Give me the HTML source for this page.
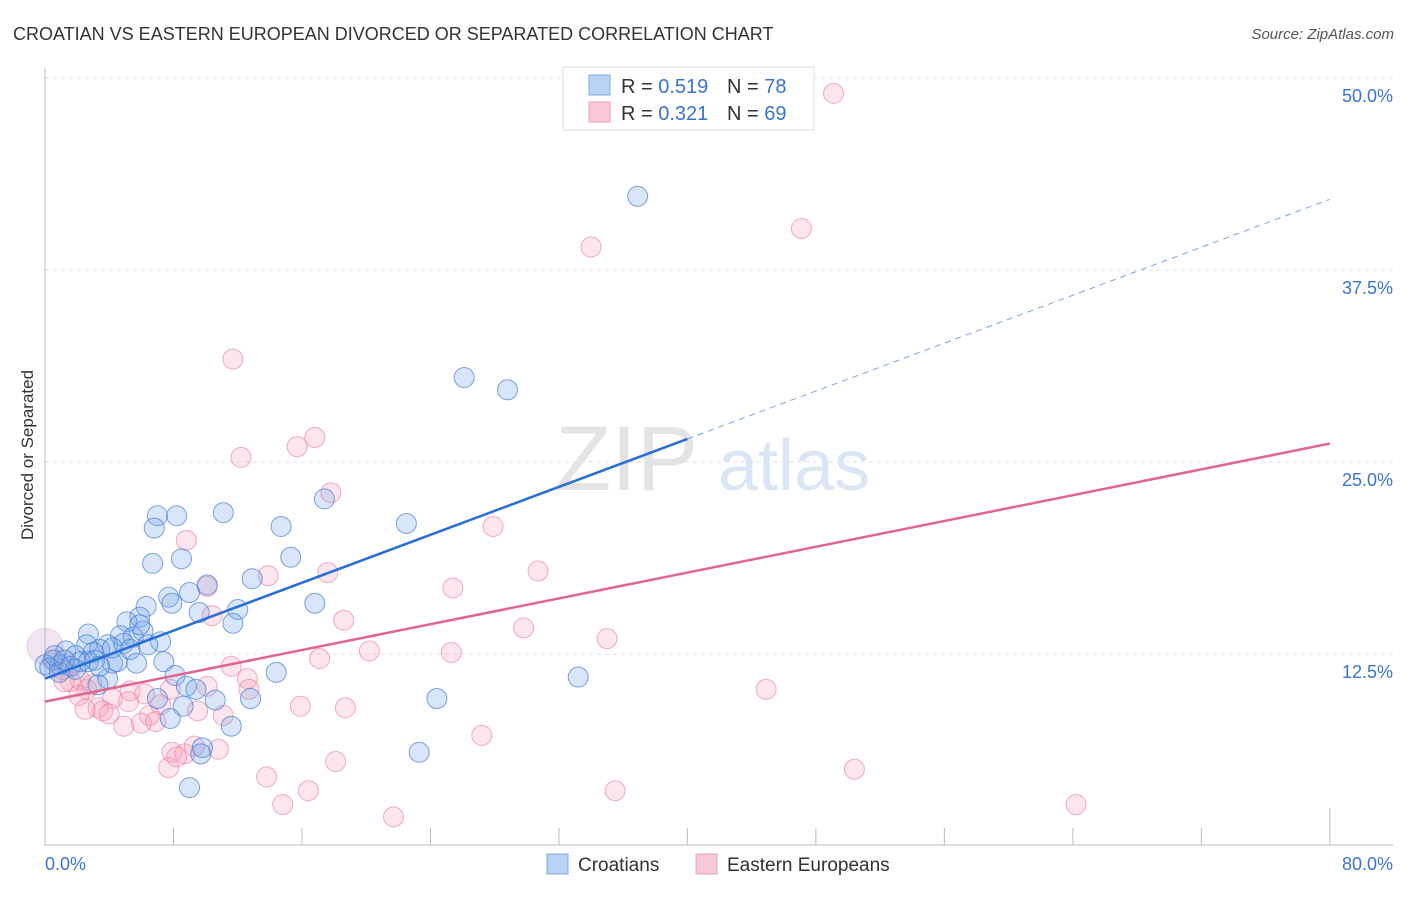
<!DOCTYPE html>
<html><head><meta charset="utf-8"><style>
body{margin:0;background:#fff;font-family:"Liberation Sans",sans-serif}
svg text{font-family:"Liberation Sans",sans-serif}
</style></head><body>
<svg id="chart" width="1406" height="892" viewBox="0 0 1406 892" xmlns="http://www.w3.org/2000/svg">
<text x="13" y="40" font-size="18" fill="#333">CROATIAN VS EASTERN EUROPEAN DIVORCED OR SEPARATED CORRELATION CHART</text>
<text x="1394" y="39" font-size="15" fill="#555" font-style="italic" text-anchor="end">Source: ZipAtlas.com</text>
<text transform="translate(33,455) rotate(-90)" font-size="17" fill="#333" text-anchor="middle">Divorced or Separated</text>
<g id="grid"></g>
<text x="555" y="490" font-size="92" fill="#e4e4e4" font-family="Liberation Serif">ZIP</text>
<text x="718" y="490" font-size="72" fill="#dbe6f5">atlas</text>
<g id="pts"></g>
<g id="lines"></g>
<g>
<rect x="563" y="67" width="251" height="63" fill="#fff" stroke="#ddd"/>
<rect x="589" y="75" width="21" height="20" fill="#b9d3f5" stroke="#7fa8e0"/>
<rect x="589" y="102" width="21" height="20" fill="#f9c8d6" stroke="#eaa0b8"/>
<text x="621" y="93" font-size="20" fill="#333">R = <tspan fill="#3a74d0">0.519</tspan></text>
<text x="727" y="93" font-size="20" fill="#333">N = <tspan fill="#3a74d0">78</tspan></text>
<text x="621" y="120" font-size="20" fill="#333">R = <tspan fill="#3a74d0">0.321</tspan></text>
<text x="727" y="120" font-size="20" fill="#333">N = <tspan fill="#3a74d0">69</tspan></text>
</g>
<g>
<rect x="547" y="854" width="21" height="20" fill="#b9d3f5" stroke="#7fa8e0"/>
<text x="578" y="871" font-size="19" fill="#333">Croatians</text>
<rect x="696" y="854" width="21" height="20" fill="#f9c8d6" stroke="#eaa0b8"/>
<text x="727" y="871" font-size="19" fill="#333">Eastern Europeans</text>
</g>
</svg>
<script>
const blueX=[36.9,26.1,28.8,17.4,22.5,14.7,11.1,7.0,8.2,6.8,6.7,8.5,15.3,12.9,10.1,7.7,6.3,7.9,9.0,9.6,12.0,11.7,16.8,5.9,5.1,4.7,5.5,6.1,7.2,2.7,2.6,3.9,3.4,4.9,6.4,1.3,1.9,3.0,4.2,5.7,7.4,4.5,0.5,0.9,1.6,2.2,2.7,0.0,0.3,3.9,8.1,8.8,9.4,14.4,33.2,24.4,7.0,12.8,8.6,7.8,11.6,9.8,9.7,23.3,9.0,3.3,1.9,0.9,0.6,1.2,3.1,5.3,4.2,5.9,10.6,3.4];
const blueY=[42.3,30.5,29.7,22.6,21.0,20.8,21.7,21.5,21.5,20.7,18.4,18.7,18.8,17.4,17.0,16.2,15.6,15.8,16.5,15.2,15.4,14.5,15.8,14.9,14.6,13.7,13.6,14.0,13.3,13.8,13.1,13.1,12.8,13.2,13.1,12.7,12.4,12.6,11.9,11.9,12.0,12.0,12.1,11.8,11.7,12.0,12.0,11.8,11.6,10.9,11.1,10.4,10.2,11.3,11.0,9.6,9.6,9.6,9.1,8.3,7.8,6.4,6.0,6.1,3.8,10.5,11.5,11.3,12.4,12.1,12.1,12.8,12.9,14.4,9.5,11.7];
const pinkX=[49.1,47.1,34.0,11.7,16.8,15.7,12.2,17.8,27.9,8.8,30.7,13.9,17.6,10.1,25.4,10.4,18.6,29.8,35.0,20.2,25.3,17.1,11.6,12.6,12.7,44.9,10.1,5.3,6.2,4.2,5.2,2.6,2.2,1.6,1.2,3.3,3.6,4.9,4.0,7.2,6.5,6.0,9.5,11.1,15.9,18.7,6.9,7.9,8.7,9.3,7.7,8.2,10.8,27.2,18.1,13.8,50.4,16.4,14.8,35.5,64.2,21.7,0.6,1.1,2.9,2.1,2.5,7.8];
const pinkY=[49.0,40.2,39.0,31.7,26.6,26.0,25.3,23.0,20.8,19.9,17.9,17.6,17.8,16.9,16.8,15.0,14.7,14.2,13.5,12.7,12.6,12.2,11.7,10.9,10.2,10.2,10.4,10.1,9.9,9.6,9.4,10.2,10.8,10.7,10.7,9.0,8.8,7.8,8.6,9.2,8.5,8.0,8.8,8.5,9.1,9.0,8.1,6.1,6.0,6.5,5.1,5.8,6.3,7.2,5.5,4.5,5.0,3.6,2.7,3.6,2.7,1.9,12.1,11.5,10.5,9.8,8.9,10.2];
const blueTrend=[10.9,42.1];
const pinkTrend=[9.4,26.2];
const yTicks=[12.5,25,37.5,50];
const yTickLabels=["12.5%","25.0%","37.5%","50.0%"];
const NS="http://www.w3.org/2000/svg";
const sx=v=>45+v*16.06, sy=v=>846-v*15.36;
function mk(t,a,p){const e=document.createElementNS(NS,t);for(const k in a)e.setAttribute(k,a[k]);p.appendChild(e);return e;}
const grid=document.getElementById('grid');
yTicks.forEach((t,i)=>{
 const l=mk('line',{x1:45,x2:1393,y1:sy(t),y2:sy(t),stroke:'#ddd','stroke-dasharray':'4,4'},grid);
 
 
 const tx=mk('text',{x:1393,y:sy(t)+24,'font-size':18,fill:'#3a74d0','text-anchor':'end'},grid);
 tx.textContent=yTickLabels[i];
 
 
});
let ax=mk('line',{x1:45,x2:45,y1:68,y2:846,stroke:'#bbb'},grid);


ax=mk('line',{x1:45,x2:1393,y1:845,y2:845,stroke:'#bbb'},grid);


for(let i=1;i<=10;i++){const tk=mk('line',{x1:sx(i*8),x2:sx(i*8),y1:i==10?808:828,y2:845,stroke:'#bbb'},grid);
 
 }
let xl=mk('text',{x:45,y:870,'font-size':18,fill:'#3a74d0'},grid);xl.textContent='0.0%';


xl=mk('text',{x:1393,y:870,'font-size':18,fill:'#3a74d0','text-anchor':'end'},grid);xl.textContent='80.0%';


const pts=document.getElementById('pts');
let b=mk('circle',{cx:sx(0),cy:sy(13.0),r:18,fill:'rgba(200,150,200,0.25)',stroke:'rgba(220,150,180,0.4)'},pts);


function draw(X,Y,fill,stroke,name){X.forEach((x,i)=>{const c=mk('circle',{cx:sx(x),cy:sy(Y[i]),r:10,fill:fill,stroke:stroke,'stroke-width':1},pts);
 
 });}
draw(pinkX,pinkY,'rgba(244,160,185,0.28)','rgba(232,130,160,0.65)','eastern-european-point');
draw(blueX,blueY,'rgba(120,165,235,0.28)','rgba(70,125,210,0.7)','croatian-point');
const lines=document.getElementById('lines');
const split=40;
const bm=blueTrend[0]+(blueTrend[1]-blueTrend[0])*split/80;
let ln=mk('line',{x1:sx(0),y1:sy(blueTrend[0]),x2:sx(split),y2:sy(bm),stroke:'#2a6fd6','stroke-width':2.5},lines);


ln=mk('line',{x1:sx(split),y1:sy(bm),x2:sx(80),y2:sy(blueTrend[1]),stroke:'#7aa3e0','stroke-width':1,'stroke-dasharray':'6,5'},lines);


ln=mk('line',{x1:sx(0),y1:sy(pinkTrend[0]),x2:sx(80),y2:sy(pinkTrend[1]),stroke:'#e2658f','stroke-width':2.5},lines);


</script>
</body></html>
